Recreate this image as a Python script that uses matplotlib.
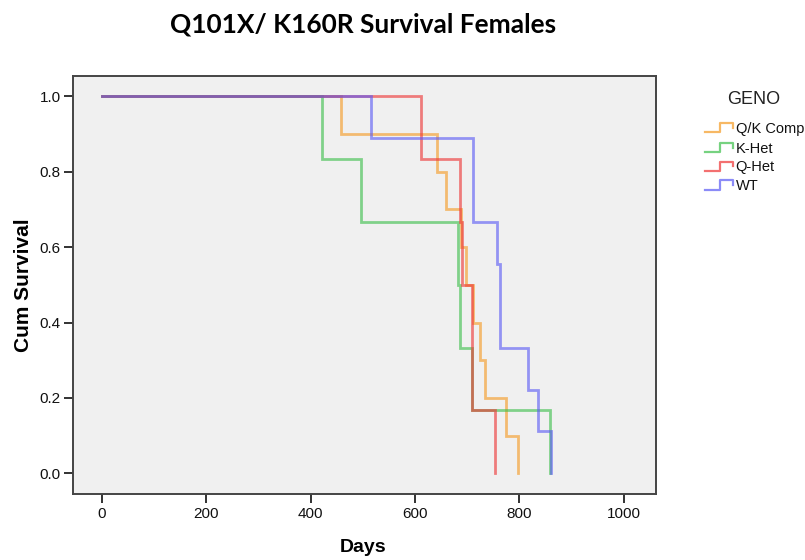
import numpy as np
import matplotlib
matplotlib.use("Agg")
import matplotlib.pyplot as plt
from matplotlib.lines import Line2D

# ---- data ----
groups = ["Q/K Comp", "K-Het", "Q-Het", "WT"]
qk_days = [0, 459, 643, 659, 689, 698, 712, 725, 734, 774, 797]
qk_surv = [1.0, 0.9, 0.8, 0.7, 0.6, 0.5, 0.4, 0.3, 0.2, 0.1, 0.0]
kh_days = [0, 421, 497, 682, 686, 710, 859]
kh_surv = [1.0, 0.833, 0.667, 0.5, 0.333, 0.167, 0.0]
qh_days = [0, 611, 686, 690, 709, 753]
qh_surv = [1.0, 0.833, 0.667, 0.5, 0.167, 0.0]
wt_days = [0, 516, 711, 758, 763, 817, 835, 861]
wt_surv = [1.0, 0.889, 0.667, 0.556, 0.333, 0.222, 0.111, 0.0]
x_ticks = [0, 200, 400, 600, 800, 1000]
y_ticks = [0.0, 0.2, 0.4, 0.6, 0.8, 1.0]

colors = ["#f59a22", "#3cbf4a", "#ee3434", "#5a5af5"]
series = [(qk_days, qk_surv), (kh_days, kh_surv), (qh_days, qh_surv), (wt_days, wt_surv)]

W, H = 805, 560
fig = plt.figure(figsize=(W / 100, H / 100), dpi=100)
L, R, T, B = 72.7, 656, 76, 494
ax = fig.add_axes([L / W, 1 - B / H, (R - L) / W, (B - T) / H])
ax.set_facecolor("#f0f0f0")

for (d, s), c, g in zip(series, colors, groups):
    ax.step(d, s, where="post", color=c, lw=2.0, alpha=0.62, label=g,
            solid_joinstyle="miter")

ax.set_xlim(-55.8, 1062)
ax.set_ylim(-0.055, 1.054)
ax.set_xticks(x_ticks)
ax.set_yticks(y_ticks)
ax.set_xticklabels([str(v) for v in x_ticks], family="Liberation Sans", fontsize=11)
ax.set_yticklabels([f"{v:.1f}" for v in y_ticks], family="Liberation Sans", fontsize=11)
ax.tick_params(direction="out", length=6.5, width=1.3, color="#222222", pad=2,
               labelcolor="#111111")
ax.tick_params(axis="x", pad=3)
for sp in ax.spines.values():
    sp.set_color("#444444")
    sp.set_linewidth(1.4)

ax.set_xlabel("Days", family="Liberation Sans", fontweight="bold", fontsize=14, va="center")
ax.xaxis.set_label_coords((363 - L) / (R - L), (B - 547) / (B - T))
ax.set_ylabel("Cum Survival", family="Liberation Sans", fontweight="bold", fontsize=15,
              va="center")
ax.yaxis.set_label_coords((24 - L) / (R - L), 0.5)

fig.text(363.5 / W, 1 - 33 / H, "Q101X/ K160R Survival Females", family="Lato",
         fontweight="bold", fontsize=18.9, ha="center", va="baseline")

# ---- legend (drawn by hand, SPSS style step handles) ----
fig.text(754 / W, 1 - 99 / H, "GENO", family="Liberation Sans", fontsize=13,
         ha="center", va="center", color="#222222")
leg_y = [129, 148.5, 167.5, 186]
for g, c, yc in zip(groups, colors, leg_y):
    xs = np.array([705, 720, 720, 733, 733])
    ys = np.array([yc + 3.5, yc + 3.5, yc - 6, yc - 6, yc - 1])
    fig.add_artist(Line2D(xs / W, 1 - ys / H, transform=fig.transFigure,
                          color=c, lw=1.6, alpha=0.7))
    fig.text(735.5 / W, 1 - yc / H, g, family="Liberation Sans", fontsize=10.5,
             ha="left", va="center", color="#111111")

fig.savefig("out.png", dpi=100)
